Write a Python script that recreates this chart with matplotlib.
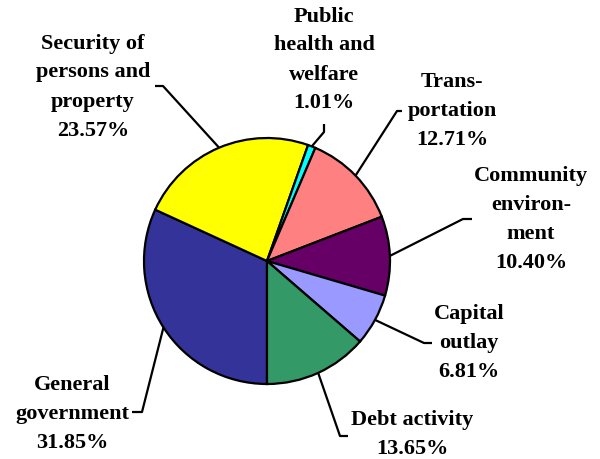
import numpy as np
import matplotlib
matplotlib.use("Agg")
import matplotlib.pyplot as plt

# Spending by function, clockwise from the bottom of the pie
categories = ["General\ngovernment", "Security of\npersons and\nproperty",
              "Public\nhealth and\nwelfare", "Trans-\nportation",
              "Community\nenviron-\nment", "Capital\noutlay", "Debt activity"]
shares = [31.85, 23.57, 1.01, 12.71, 10.40, 6.81, 13.65]
colors = ["#333399", "#FFFF00", "#00FFFF", "#FF8080", "#660066", "#9999FF", "#339966"]

# label block centre, leader start and elbow (pixel coords, y down)
label_pos = [(72, 414), (93, 87), (324, 60), (452, 111), (531, 220), (469, 343), (412, 435)]
leader_pts = [((132, 413), (142, 413)), ((155, 87), (163, 87)), ((324, 125), (324, 133)),
              ((402, 112), (397, 112)), ((472, 220), (463, 220)), ((432, 344), (424, 344)),
              ((348, 437), (340, 437))]

W, H = 600, 460
cx, cy, r = 267, 262, 123

fig = plt.figure(figsize=(6, 4.6), dpi=100)
ax = fig.add_axes([0, 0, 1, 1])

wedges, _ = ax.pie(shares, colors=colors, startangle=-90, counterclock=False,
                   center=(cx, H - cy), radius=r,
                   wedgeprops=dict(edgecolor="black", linewidth=1.6))
ax.set_xlim(0, W)
ax.set_ylim(0, H)
ax.set_aspect("equal")
ax.axis("off")

font = dict(family="Liberation Serif", weight="bold", size=16)
for w, name, val, (tx, ty), (p0, p1) in zip(wedges, categories, shares, label_pos, leader_pts):
    mid = np.deg2rad((w.theta1 + w.theta2) / 2)
    ex, ey = cx + r * np.cos(mid), (H - cy) + r * np.sin(mid)
    ax.plot([p0[0], p1[0], ex], [H - p0[1], H - p1[1], ey], color="black", lw=1.6,
            solid_capstyle="butt", zorder=0)
    ax.text(tx, H - ty, f"{name}\n{val:.2f}%", ha="center", va="center",
            multialignment="center", linespacing=1.6, **font)

fig.savefig("out.png", dpi=100)
